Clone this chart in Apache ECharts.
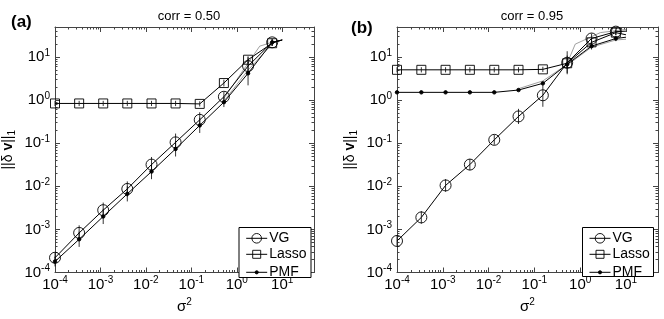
<!DOCTYPE html>
<html>
<head>
<meta charset="utf-8">
<script src="https://cdn.jsdelivr.net/npm/echarts@6/dist/echarts.min.js"></script>
<style>
html,body{margin:0;padding:0;background:#fff;}
#chart{width:664px;height:319px;}
</style>
</head>
<body>
<div id="chart"></div>
<script>
// ---- data ----
const xVals = [1e-4, 3.4e-4, 1.15e-3, 3.9e-3, 1.33e-2, 4.5e-2, 0.153, 0.52, 1.77, 6.0, 10];

// panel (a): corr = 0.50
const aVG    = [2.2e-4, 8.3e-4, 2.8e-3, 8.7e-3, 3.2e-2, 0.105, 0.35, 1.2, 6.2, 22, 25];
const aLasso = [0.84, 0.84, 0.84, 0.84, 0.84, 0.84, 0.82, 2.5, 8.7, 21, 25];
const aPMF   = [1.8e-4, 5.9e-4, 2.0e-3, 6.7e-3, 2.2e-2, 0.074, 0.26, 0.90, 4.2, 22, 25];
const aVGErr    = [1.3, 1.5, 1.5, 1.5, 1.5, 1.6, 1.5, 1.3, 1.6, 1.2];
const aLassoErr = [1.15, 1.15, 1.15, 1.15, 1.15, 1.15, 1.15, 1.2, 1.2, 1.15];
const aPMFErr   = [1.3, 1.5, 1.5, 1.5, 1.5, 1.5, 1.5, 1.3, 1.9, 1.2];
const aGrey1X = [0.52, 3.2, 6.0];
const aGrey1Y = [1.1, 18, 22];
const aGrey2X = [0.52, 1.77, 6.0];
const aGrey2Y = [0.95, 5.0, 20];

// panel (b): corr = 0.95
const bVG    = [5.4e-4, 1.9e-3, 1.05e-2, 3.2e-2, 0.12, 0.42, 1.3, 7.4, 27, 39, 40];
const bLasso = [5.07, 5.07, 5.07, 5.07, 5.07, 5.07, 5.2, 7.2, 22, 37, 33];
const bPMF   = [1.52, 1.52, 1.52, 1.52, 1.52, 1.72, 2.46, 6.8, 18, 27, 29];
const bVGErr    = [1.3, 1.4, 1.4, 1.35, 1.3, 1.5, 1.85, 1.85, 1.3, 1.2];
const bLassoErr = [1.15, 1.15, 1.15, 1.15, 1.15, 1.15, 1.15, 1.3, 1.2, 1.15];
const bPMFErr   = [1.05, 1.05, 1.05, 1.05, 1.05, 1.05, 1.05, 1.6, 1.2, 1.15];
const bGrey1X = [0.52, 0.78, 2.75, 10];
const bGrey1Y = [7.2, 20, 37, 44];
const bGrey2X = [0.52, 1.77, 6.0, 10];
const bGrey2Y = [6.5, 17, 25, 26];
const bGrey3X = [0.045, 0.153, 0.52];
const bGrey3Y = [1.85, 2.8, 6.8];

const panelTitles = ['corr = 0.50', 'corr = 0.95'];
const panelLetters = ['(a)', '(b)'];
const legendNames = ['VG', 'Lasso', 'PMF'];
const axisMin = 1e-4, axisMax = 50;

// ---- chart ----
const FONT = 'Liberation Sans, Arial, Helvetica, sans-serif';
const chart = echarts.init(document.getElementById('chart'));

function powLabel(v) {
  const e = Math.round(Math.log10(v));
  if (Math.abs(v - Math.pow(10, e)) / v > 1e-6) return '';
  return '{b|10}{s|' + e + '}';
}
const labelRich = {
  b: {fontSize: 15, fontFamily: FONT, color: '#000'},
  s: {fontSize: 10, fontFamily: FONT, color: '#000', verticalAlign: 'bottom', padding: [0, 0, 8, 0]}
};

const grids = [
  {left: 53, top: 27, width: 261, height: 254},
  {left: 397, top: 27, width: 261, height: 254}
];

const xAxes = [], yAxes = [];
grids.forEach((g, i) => {
  const common = {
    type: 'log', logBase: 10, min: axisMin, max: axisMax, gridIndex: i,
    axisLine: {show: true, lineStyle: {color: '#444', width: 1}},
    axisTick: {show: true, inside: true, length: 5, lineStyle: {color: '#444'}},
    minorTick: {show: true, splitNumber: 9, length: 2.5, lineStyle: {color: '#444'}},
    splitLine: {show: false}, minorSplitLine: {show: false}
  };
  xAxes.push(Object.assign({}, common, {
    position: 'bottom',
    axisLabel: {formatter: powLabel, rich: labelRich, margin: 3},
    name: '{b|σ}{s|2}', nameLocation: 'middle', nameGap: 25,
    nameTextStyle: {rich: labelRich}
  }));
  xAxes.push(Object.assign({}, common, {position: 'top', axisLabel: {show: false}}));
  yAxes.push(Object.assign({}, common, {
    position: 'left',
    axisLabel: {formatter: powLabel, rich: labelRich, margin: 5},
    name: '{n|||δ }{v|v}{n|||}{u|1}', nameLocation: 'middle', nameGap: 38, nameRotate: 90,
    nameTextStyle: {rich: {
      n: {fontSize: 14, fontFamily: FONT, color: '#000'},
      v: {fontSize: 14, fontFamily: FONT, color: '#000', fontWeight: 'bold'},
      u: {fontSize: 10, fontFamily: FONT, color: '#000', verticalAlign: 'top', padding: [8, 0, 0, 0]}
    }}
  }));
  yAxes.push(Object.assign({}, common, {position: 'right', axisLabel: {show: false}}));
});

function pts(xs, ys) {
  return ys.map((y, k) => k === 10 ? {value: [xs[k], y], symbol: 'none'} : [xs[k], y]);
}
function errData(ys, fs) {
  return fs.map((f, k) => [xVals[k], ys[k] / f, ys[k] * f]);
}
function lineSeries(name, ys, p, symbol, size, fill) {
  return {
    name: name, type: 'line', xAxisIndex: 2 * p, yAxisIndex: 2 * p,
    data: pts(xVals, ys), symbol: symbol, symbolSize: size, showSymbol: true,
    lineStyle: {color: '#000', width: 1},
    itemStyle: {color: fill, borderColor: '#000', borderWidth: 0.9},
    emphasis: {disabled: true}, animation: false, z: 3
  };
}
function greySeries(xs, ys, p) {
  return {
    type: 'line', xAxisIndex: 2 * p, yAxisIndex: 2 * p,
    data: xs.map((x, k) => [x, ys[k]]), symbol: 'none',
    lineStyle: {color: '#888', width: 0.8}, smooth: false,
    emphasis: {disabled: true}, animation: false, z: 2
  };
}
function errSeries(ys, fs, p) {
  return {
    type: 'custom', xAxisIndex: 2 * p, yAxisIndex: 2 * p,
    data: errData(ys, fs),
    renderItem: function (params, api) {
      const a = api.coord([api.value(0), api.value(1)]);
      const b = api.coord([api.value(0), api.value(2)]);
      return {type: 'line', shape: {x1: a[0], y1: a[1], x2: b[0], y2: b[1]},
              style: {stroke: '#000', lineWidth: 0.8}};
    },
    animation: false, z: 4
  };
}

const series = [
  errSeries(aVG, aVGErr, 0), errSeries(aLasso, aLassoErr, 0), errSeries(aPMF, aPMFErr, 0),
  greySeries(aGrey1X, aGrey1Y, 0), greySeries(aGrey2X, aGrey2Y, 0),
  lineSeries('VG', aVG, 0, 'circle', 11, 'rgba(255,255,255,0)'),
  lineSeries('Lasso', aLasso, 0, 'rect', 9, 'rgba(255,255,255,0)'),
  lineSeries('PMF', aPMF, 0, 'circle', 3.5, '#000'),
  errSeries(bVG, bVGErr, 1), errSeries(bLasso, bLassoErr, 1), errSeries(bPMF, bPMFErr, 1),
  greySeries(bGrey1X, bGrey1Y, 1), greySeries(bGrey2X, bGrey2Y, 1), greySeries(bGrey3X, bGrey3Y, 1),
  lineSeries('VG', bVG, 1, 'circle', 11, 'rgba(255,255,255,0)'),
  lineSeries('Lasso', bLasso, 1, 'rect', 9, 'rgba(255,255,255,0)'),
  lineSeries('PMF', bPMF, 1, 'circle', 3.5, '#000')
];

// legends: one per entry so each icon gets its own marker size
const legendItemH = [12, 10, 4];
const legendCenters = [237.3, 252.3, 267.3];
const legendLeft = [245.7, 589];
const legends = [];
[0, 1].forEach(p => {
  legendNames.forEach((nm, k) => {
    legends.push({
      orient: 'vertical', data: [nm], itemWidth: 21, itemHeight: legendItemH[k],
      left: legendLeft[p], top: legendCenters[k] - legendItemH[k] / 2,
      padding: 0, selectedMode: false, z: 100,
      lineStyle: {width: 1, color: '#000'},
      itemStyle: {borderWidth: 0.9, borderColor: '#000'},
      textStyle: {fontSize: 14, fontFamily: FONT, color: '#000', padding: [0, 0, 0, -3]}
    });
  });
});

const option = {
  backgroundColor: '#fff',
  animation: false,
  textStyle: {fontFamily: FONT},
  title: [
    {text: panelTitles[0], left: 184, top: 5, textAlign: 'center', textStyle: {fontSize: 13, fontWeight: 'normal', fontFamily: FONT, color: '#000'}},
    {text: panelTitles[1], left: 527, top: 5, textAlign: 'center', textStyle: {fontSize: 13, fontWeight: 'normal', fontFamily: FONT, color: '#000'}},
    {text: panelLetters[0], left: 6, top: 9, textStyle: {fontSize: 17, fontWeight: 'bold', fontFamily: FONT, color: '#000'}},
    {text: panelLetters[1], left: 346, top: 15, textStyle: {fontSize: 17, fontWeight: 'bold', fontFamily: FONT, color: '#000'}}
  ],
  graphic: [
    {type: 'rect', shape: {x: 239, y: 227.5, width: 72, height: 50}, style: {fill: '#fff', stroke: '#000', lineWidth: 1}, z: 5},
    {type: 'rect', shape: {x: 582.5, y: 227.5, width: 71, height: 49}, style: {fill: '#fff', stroke: '#000', lineWidth: 1}, z: 5}
  ],
  legend: legends,
  grid: grids,
  xAxis: xAxes,
  yAxis: yAxes,
  series: series
};
chart.setOption(option);
</script>
</body>
</html>
